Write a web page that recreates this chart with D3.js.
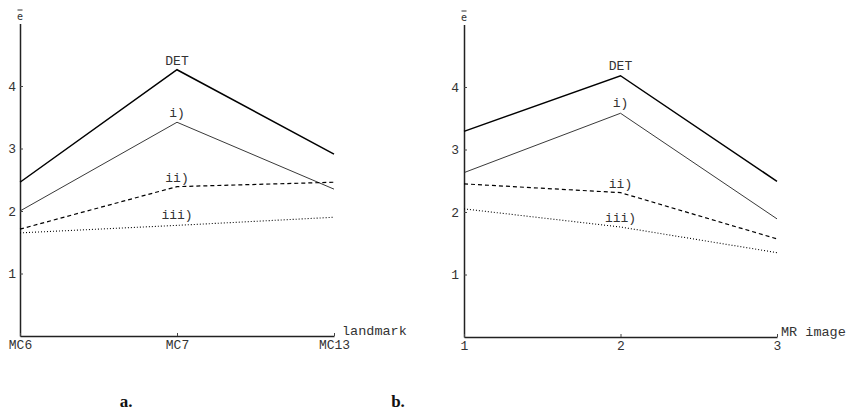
<!DOCTYPE html>
<html><head><meta charset="utf-8">
<script src="https://cdn.jsdelivr.net/npm/d3@7"></script>
<style>
body{margin:0;background:#fff;}
svg{display:block;}
.tick text{font-family:"Liberation Mono","DejaVu Sans Mono",monospace;font-size:13px;fill:#333;}
</style></head>
<body>
<svg id="c" width="851" height="412"></svg>
<script>
// Panel a: landmarks
const landmarks = ["MC6", "MC7", "MC13"];
const aDET = [2.46, 4.26, 2.91];
const aI   = [2.00, 3.42, 2.35];
const aII  = [1.71, 2.39, 2.46];
const aIII = [1.65, 1.77, 1.90];
// Panel b: MR images
const images = [1, 2, 3];
const bDET = [3.29, 4.18, 2.49];
const bI   = [2.63, 3.58, 1.89];
const bII  = [2.45, 2.31, 1.57];
const bIII = [2.05, 1.76, 1.35];
const yTicks = [1, 2, 3, 4];
const seriesNames = ["DET", "i)", "ii)", "iii)"];

const svg = d3.select("#c");
const mono = '"Liberation Mono","DejaVu Sans Mono",monospace';
const styles = [
  {w: 1.5, dash: null, c: "#000"},
  {w: 0.9, dash: null, c: "#222"},
  {w: 1.2, dash: "4,3", c: "#000"},
  {w: 1.1, dash: "1,2", c: "#000"}
];

function panel(cfg) {
  const g = svg.append("g");
  const y = d3.scaleLinear().domain([0, 5]).range([cfg.y0, cfg.y0 - 312.5]);
  const x = cfg.x;
  // y axis
  const ya = g.append("g").attr("transform", `translate(${cfg.xAxisX},0)`)
    .call(d3.axisLeft(y).tickValues(yTicks).tickFormat(d3.format("d"))
      .tickSizeInner(-3).tickSizeOuter(0).tickPadding(cfg.ypad));
  ya.select(".domain").attr("stroke", "#222").attr("stroke-width", 1.5);
  ya.selectAll(".tick line").attr("stroke", "#444");
  // x axis
  const xa = g.append("g").attr("transform", `translate(0,${cfg.y0})`)
    .call(d3.axisBottom(x).tickValues(cfg.cats).tickFormat(cfg.fmt)
      .tickSizeInner(-3).tickSizeOuter(0).tickPadding(4));
  xa.select(".domain").attr("stroke", "#222").attr("stroke-width", 1.5);
  xa.selectAll(".tick line").attr("stroke", "#444");
  xa.selectAll(".tick text").attr("dy", "0.7em");
  // axis labels: e with bar
  g.append("text").attr("x", cfg.xAxisX).attr("y", y(5) - 4)
    .attr("text-anchor", "middle").attr("font-family", '"DejaVu Sans Mono",monospace').attr("font-size", 10)
    .attr("fill", "#333").text("e");
  g.append("line").attr("x1", cfg.xAxisX - 2.5).attr("x2", cfg.xAxisX + 2.5)
    .attr("y1", y(5) - 13.5).attr("y2", y(5) - 13.5).attr("stroke", "#333").attr("stroke-width", 1);
  g.append("text").attr("x", cfg.xLabelX).attr("y", cfg.y0 - 1)
    .attr("font-family", mono).attr("font-size", 13.5).attr("fill", "#333").text(cfg.xLabel);
  // lines
  const line = d3.line().x((d, i) => x(cfg.cats[i])).y(d => y(d));
  cfg.series.forEach((s, k) => {
    const p = g.append("path").datum(s).attr("d", line).attr("fill", "none")
      .attr("stroke", styles[k].c).attr("stroke-width", styles[k].w);
    if (styles[k].dash) p.attr("stroke-dasharray", styles[k].dash);
    g.append("text").attr("x", x(cfg.cats[1])).attr("y", y(s[1]) + cfg.labOff[k])
      .attr("text-anchor", "middle").attr("font-family", mono).attr("font-size", 13)
      .attr("fill", "#333").text(seriesNames[k]);
  });
  // caption
  g.append("text").attr("x", cfg.capX).attr("y", 407).attr("text-anchor", "middle")
    .attr("font-family", '"Liberation Serif","DejaVu Serif",serif').attr("font-weight", "bold")
    .attr("font-size", 17).attr("fill", "#111").text(cfg.cap);
}

panel({
  cats: landmarks, fmt: d => d,
  x: d3.scalePoint().domain(landmarks).range([20, 334]),
  xAxisX: 20, y0: 336, ypad: 4,
  xLabel: "landmark", xLabelX: 342,
  series: [aDET, aI, aII, aIII],
  labOff: [-5, -5, -5, -6],
  capX: 126, cap: "a."
});
panel({
  cats: images, fmt: d3.format("d"),
  x: d3.scaleLinear().domain([1, 3]).range([464, 777]),
  xAxisX: 464, y0: 337, ypad: 5,
  xLabel: "MR image", xLabelX: 781,
  series: [bDET, bI, bII, bIII],
  labOff: [-6, -6, -5, -5],
  capX: 398, cap: "b."
});
</script>
</body></html>
